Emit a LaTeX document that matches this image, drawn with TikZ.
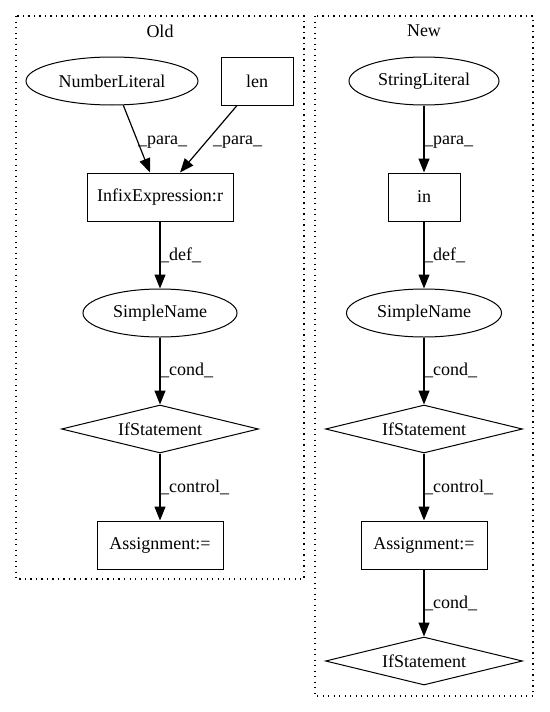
\documentclass[tikz,border=0pt]{standalone}
\usepackage{fontspec}
\setmainfont{Liberation Serif}
\usetikzlibrary{shapes.geometric,arrows.meta}
\tikzset{
  base/.style={draw, line width=1pt, inner sep=0pt, font=\fontsize{18}{20}\selectfont},
  boxnode/.style={base, rectangle, minimum height=48pt},
  ellnode/.style={base, ellipse, minimum height=48pt},
  dianode/.style={base, diamond, aspect=4, minimum width=197pt, minimum height=48pt},
  edge/.style={line width=1.2pt, -{Triangle[length=14pt,width=11pt]}},
  elab/.style={anchor=west, inner sep=0pt, font=\fontsize{18}{20}\selectfont},
  cluster/.style={line width=1.3pt, dash pattern=on 1.3pt off 4.2pt},
  clab/.style={inner sep=0pt, font=\fontsize{18}{20}\selectfont}
}
\begin{document}
\begin{tikzpicture}[x=1pt,y=-1pt]
\useasboundingbox (0,0) rectangle (549,712);
% clusters
\draw[cluster] (16,16) rectangle (304,579);
\draw[cluster] (315,16) rectangle (533,696);
\node[clab] (oldlab) at (160,31) {Old};
\node[clab] (newlab) at (424,31) {New};
% Old
\node[ellnode, minimum width=172pt] (nl) at (112,81) {NumberLiteral};
\node[boxnode, minimum width=72pt] (len) at (257,81) {len};
\node[boxnode, minimum width=146pt] (infix) at (160,197) {InfixExpression:r};
\node[ellnode, minimum width=154pt] (sn1) at (160,313) {SimpleName};
\node[dianode] (if1) at (160,429) {IfStatement};
\node[boxnode, minimum width=126pt] (as1) at (160,545) {Assignment:=};
\draw[edge] (nl.-65) -- ([xshift=-10pt]infix.north);
\draw[edge] ([xshift=-20pt]len.south) -- ([xshift=20pt]infix.north);
\draw[edge] (infix) -- (sn1);
\draw[edge] (sn1) -- (if1);
\draw[edge] (if1) -- (as1);
\node[elab] (l1) at (138,142) {\_para\_};
\node[elab] (l2) at (213,142) {\_para\_};
\node[elab] (l3) at (160,255) {\_def\_};
\node[elab] (l4) at (160,370) {\_cond\_};
\node[elab] (l5) at (160,487) {\_control\_};
% New
\node[ellnode, minimum width=150pt] (sl) at (424,81) {StringLiteral};
\node[boxnode, minimum width=72pt] (in) at (424,197) {in};
\node[ellnode, minimum width=155pt] (sn2) at (424,313) {SimpleName};
\node[dianode] (if2) at (424,429) {IfStatement};
\node[boxnode, minimum width=126pt] (as2) at (424,545) {Assignment:=};
\node[dianode] (if3) at (424,661) {IfStatement};
\draw[edge] (sl) -- (in);
\draw[edge] (in) -- (sn2);
\draw[edge] (sn2) -- (if2);
\draw[edge] (if2) -- (as2);
\draw[edge] (as2) -- (if3);
\node[elab] (m1) at (424,142) {\_para\_};
\node[elab] (m2) at (424,255) {\_def\_};
\node[elab] (m3) at (424,370) {\_cond\_};
\node[elab] (m4) at (424,487) {\_control\_};
\node[elab] (m5) at (424,603) {\_cond\_};
\end{tikzpicture}
\end{document}
